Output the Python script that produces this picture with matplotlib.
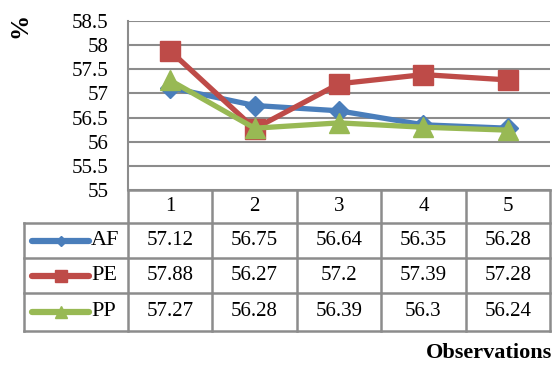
import matplotlib.pyplot as plt
import numpy as np

# data
observations = ['1', '2', '3', '4', '5']
af = [57.12, 56.75, 56.64, 56.35, 56.28]
pe = [57.88, 56.27, 57.2, 57.39, 57.28]
pp = [57.27, 56.28, 56.39, 56.3, 56.24]
af_labels = ['57.12', '56.75', '56.64', '56.35', '56.28']
pe_labels = ['57.88', '56.27', '57.2', '57.39', '57.28']
pp_labels = ['57.27', '56.28', '56.39', '56.3', '56.24']
yticks = [55, 55.5, 56, 56.5, 57, 57.5, 58, 58.5]
ytick_labels = ['55', '55.5', '56', '56.5', '57', '57.5', '58', '58.5']

plt.rcParams['font.family'] = ['Liberation Serif', 'DejaVu Serif']

W, H = 557, 365
fig = plt.figure(figsize=(W / 100, H / 100), dpi=100)

def px_axes(x0, y0, x1, y1):
    return fig.add_axes([x0 / W, 1 - y1 / H, (x1 - x0) / W, (y1 - y0) / H])

grid_col = '#8c8c8c'
series = [
    ('AF', af, af_labels, '#4a7ebb', 'D', 10),
    ('PE', pe, pe_labels, '#be4b48', 's', 15),
    ('PP', pp, pp_labels, '#98b954', '^', 15),
]

# main plot
ax = px_axes(128, 21, 550, 190)
x = np.arange(len(observations)) + 0.5
ax.set_xlim(0, 5)
ax.set_ylim(55, 58.5)
ax.set_yticks(yticks)
ax.set_yticklabels(ytick_labels, fontsize=15)
ax.set_xticks([])
for y in yticks:
    ax.axhline(y, color=grid_col, lw=1.5, zorder=0)
for s in ['top', 'right', 'bottom']:
    ax.spines[s].set_visible(False)
ax.spines['left'].set_color(grid_col)
ax.spines['left'].set_linewidth(1.5)
ax.tick_params(axis='y', length=0, pad=14)
for name, vals, _, col, mk, ms in series:
    ax.plot(x, vals, color=col, lw=3.8, marker=mk, markersize=ms, zorder=3,
            clip_on=False)

fig.text(20 / W, 1 - 25 / H, '%', rotation=90, fontsize=18, fontweight='bold',
         ha='center', va='center')

# data table
unit = (550 - 128) / 5
tab = px_axes(24, 190, 550, 331)
tab.set_xlim(-(128 - 24) / unit, 5)
tab.set_ylim(331, 190)
tab.axis('off')
rows = [190, 223, 258, 293, 331]
lw = 1.8
# horizontal lines
tab.plot([0, 5], [190, 190], color=grid_col, lw=lw, clip_on=False)
for r in rows[1:]:
    tab.plot([-(128 - 24) / unit, 5], [r, r], color=grid_col, lw=lw, clip_on=False)
# vertical lines
for c in range(6):
    tab.plot([c, c], [190, 331], color=grid_col, lw=lw, clip_on=False)
tab.plot([-(128 - 24) / unit] * 2, [223, 331], color=grid_col, lw=lw, clip_on=False)

for i, lab in enumerate(observations):
    tab.text(i + 0.5, (rows[0] + rows[1]) / 2, lab, ha='center', va='center',
             fontsize=15)
lx0 = -(128 - 24 - 8) / unit
lx1 = -(128 - 89) / unit
for j, (name, vals, labels, col, mk, ms) in enumerate(series):
    yc = (rows[j + 1] + rows[j + 2]) / 2
    tab.plot([lx0, lx1], [yc, yc], color=col, lw=4.5, solid_capstyle='round',
             clip_on=False)
    tab.plot([(lx0 + lx1) / 2], [yc], color=col, marker=mk, markersize=ms * 0.55,
             clip_on=False)
    tab.text(-(128 - 91) / unit, yc, name, ha='left', va='center', fontsize=16)
    for i, t in enumerate(labels):
        tab.text(i + 0.5, yc, t, ha='center', va='center', fontsize=15)

fig.text(552 / W, 1 - 353 / H, 'Observations', ha='right', va='center',
         fontsize=16, fontweight='bold')

fig.savefig('out.png', dpi=100)
